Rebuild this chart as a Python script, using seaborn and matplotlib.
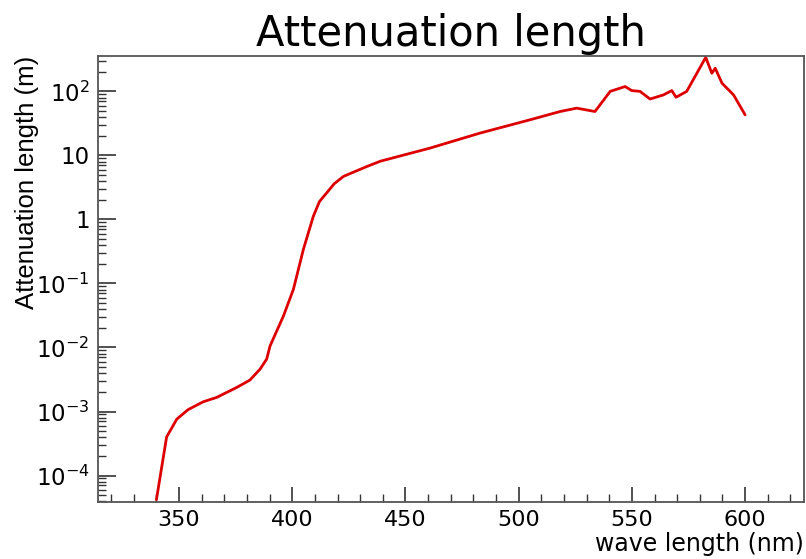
import numpy as np
import pandas as pd
import matplotlib
matplotlib.use("Agg")
import matplotlib.pyplot as plt
import matplotlib.ticker as mticker
import seaborn as sns

# ---- data ----
wavelength = [340.0, 344.5, 349.0, 354.0, 360.7, 366.6, 375.5, 381.3, 385.8, 388.7,
              390.2, 396.1, 400.5, 404.9, 409.3, 412.0, 415.2, 418.5, 422.6, 432.9,
              438.8, 460.8, 482.9, 505.0, 518.3, 525.6, 533.7, 540.4, 547.0, 549.9,
              553.6, 558.0, 563.9, 567.6, 569.5, 574.2, 582.6, 585.3, 586.8, 589.8,
              594.9, 600.0]
atten_len = [4.2e-5, 4.0e-4, 7.6e-4, 1.07e-3, 1.42e-3, 1.66e-3, 2.38e-3, 3.1e-3, 4.6e-3, 6.6e-3,
             1.06e-2, 3.1e-2, 8.1e-2, 0.34, 1.12, 1.9, 2.6, 3.6, 4.7, 6.7,
             8.1, 13.0, 22.3, 36.0, 48.5, 54.7, 48.5, 100.0, 119.0, 103.0,
             100.0, 76.0, 88.0, 103.0, 81.0, 100.0, 340.0, 192.0, 230.0, 134.0,
             88.0, 43.0]
x_ticks = [350, 400, 450, 500, 550, 600]
y_ticks = [1e-4, 1e-3, 1e-2, 1e-1, 1, 10, 100]

title = "Attenuation length"
xlabel = "wave length (nm)"
ylabel = "Attenuation length (m)"

sns.set_theme(style="white")
plt.rcParams['font.family'] = ['DejaVu Sans']
plt.rcParams['mathtext.fontset'] = 'dejavusans'
plt.rcParams['mathtext.default'] = 'regular'
plt.rcParams['text.color'] = 'black'
plt.rcParams['axes.labelcolor'] = 'black'
plt.rcParams['xtick.color'] = 'black'
plt.rcParams['ytick.color'] = 'black'

fig = plt.figure(figsize=(8.06, 5.59), dpi=100)
ax = fig.add_axes([98/806, (559-502)/559, (804-98)/806, (502-56)/559])

df = pd.DataFrame({"wl": wavelength, "L": atten_len})
sns.lineplot(data=df, x="wl", y="L", ax=ax, sort=False, estimator=None,
             color="#dd0000", linewidth=2.0)

ax.set_yscale("log")
ax.set_xlim(314.2, 626.0)
ax.set_ylim(3.86e-5, 357)

ax.set_xticks(x_ticks)
ax.xaxis.set_minor_locator(mticker.MultipleLocator(10))
ax.set_yticks(y_ticks)
ax.yaxis.set_minor_locator(mticker.LogLocator(base=10, subs=np.arange(2, 10), numticks=30))
ax.yaxis.set_minor_formatter(mticker.NullFormatter())

def yfmt(v, pos):
    e = int(round(np.log10(v)))
    if e == 0:
        return "1"
    if e == 1:
        return "10"
    return r"$10^{%d}$" % e
ax.yaxis.set_major_formatter(mticker.FuncFormatter(yfmt))

ax.tick_params(axis="x", which="major", direction="in", length=11, width=1.2,
               color="#333333", labelsize=16, pad=6, bottom=True, top=False)
ax.tick_params(axis="x", which="minor", direction="in", length=5.5, width=1.0,
               color="#333333", bottom=True, top=False)
ax.tick_params(axis="y", which="major", direction="in", length=13, width=1.2,
               color="#333333", labelsize=16.5, pad=6, left=True, right=False)
ax.tick_params(axis="y", which="minor", direction="in", length=6, width=1.0,
               color="#333333", left=True, right=False)

for s in ax.spines.values():
    s.set_color("#555555")
    s.set_linewidth(1.3)

ax.set_xlabel(xlabel, fontsize=17, loc="right")
ax.xaxis.label.set_va("baseline")
ax.xaxis.set_label_coords(1.0, (502 - 551) / 446)
ax.set_ylabel(ylabel, fontsize=18.5, loc="top", family="Liberation Sans")
ax.yaxis.label.set_va("baseline")
ax.yaxis.set_label_coords((34 - 98) / 706, 1.0)

fig.text((98 + 804) / 2 / 806, 1 - 46 / 559, title, fontsize=30,
         ha="center", va="baseline")

fig.savefig("out.png", dpi=100)
